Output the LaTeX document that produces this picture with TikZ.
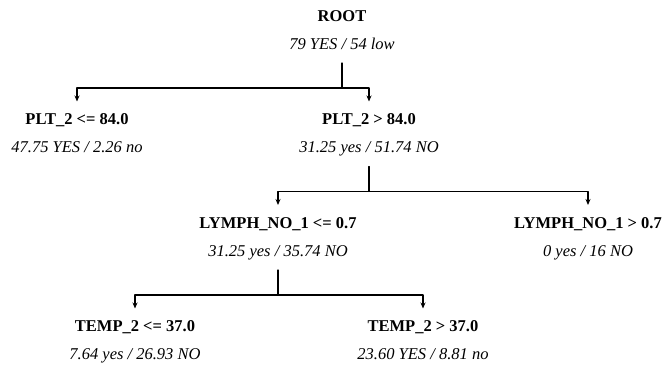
\documentclass[tikz,border=0pt]{standalone}
\usepackage{fontspec}
\setmainfont{Liberation Serif}
\usetikzlibrary{arrows.meta}
\begin{document}
\begin{tikzpicture}[x=1pt,y=-1pt,line cap=round,line join=round,font=\fontsize{16.5}{19}\selectfont]
	\tikzset{head/.style={anchor=base,inner sep=0pt,font=\fontsize{16.5}{19}\selectfont\bfseries},
		stat/.style={anchor=base,inner sep=0pt,font=\fontsize{16.5}{19}\selectfont\itshape},
		stem/.style={line width=1.3pt},
		branch/.style={line width=1.3pt,-{Stealth[length=6pt,width=5pt]}}}
	\useasboundingbox (0,0) rectangle (668,372);
	% root
	\node[head] (root) at (342,21) {ROOT};
	\node[stat] (root-s) at (342,49) {79 YES / 54 low};
	% PLT_2 split
	\node[head] (plt-a) at (77,124.5) {PLT\_2 <= 84.0};
	\node[stat] (plt-a-s) at (77,152.5) {47.75 YES / 2.26 no};
	\node[head] (plt-b) at (369,124.5) {PLT\_2 > 84.0};
	\node[stat] (plt-b-s) at (369,152.5) {31.25 yes / 51.74 NO};
	% LYMPH_NO_1 split
	\node[head] (lym-a) at (278,228) {LYMPH\_NO\_1 <= 0.7};
	\node[stat] (lym-a-s) at (278,256) {31.25 yes / 35.74 NO};
	\node[head] (lym-b) at (588,228) {LYMPH\_NO\_1 > 0.7};
	\node[stat] (lym-b-s) at (588,256) {0 yes / 16 NO};
	% TEMP_2 split
	\node[head] (tmp-a) at (135,331.5) {TEMP\_2 <= 37.0};
	\node[stat] (tmp-a-s) at (135,359.5) {7.64 yes / 26.93 NO};
	\node[head] (tmp-b) at (423,331.5) {TEMP\_2 > 37.0};
	\node[stat] (tmp-b-s) at (423,359.5) {23.60 YES / 8.81 no};
	% connectors
	\foreach \p/\a/\b in {root/plt-a/plt-b, plt-b/lym-a/lym-b, lym-a/tmp-a/tmp-b}{
		\draw[stem] ([yshift=-14pt]\p-s.base) -- ++(0,25) coordinate (\p-j);
		\draw[branch] (\p-j) -| ([yshift=23pt]\a.base);
		\draw[branch] (\p-j) -| ([yshift=23pt]\b.base);
	}
\end{tikzpicture}
\end{document}
